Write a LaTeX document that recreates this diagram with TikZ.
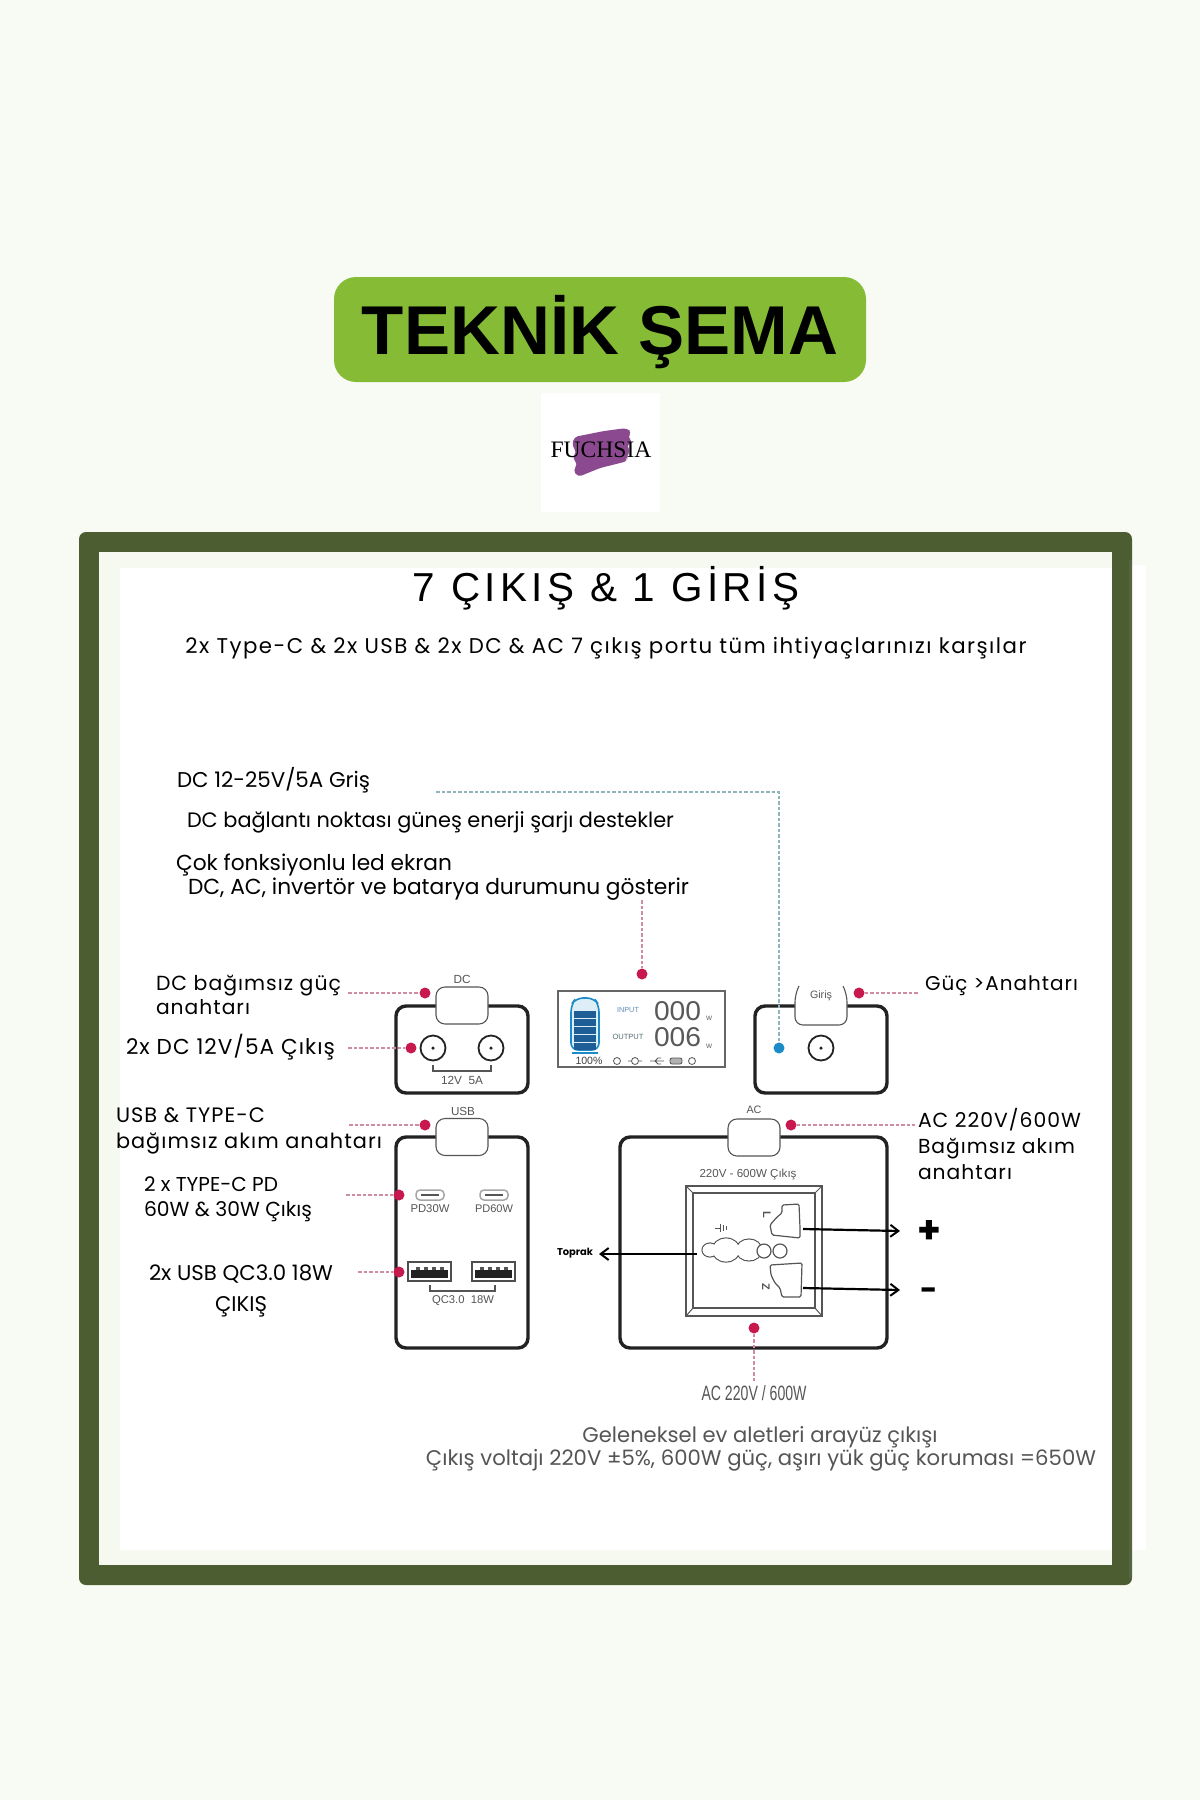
\documentclass[tikz,border=0pt]{standalone}
\usepackage{fontspec}
\usepackage{graphicx}
\usetikzlibrary{arrows.meta}
\setmainfont{Poppins}
\newfontfamily\pop{Poppins}
\newfontfamily\popsp{Poppins}[LetterSpace=5]
\newfontfamily\popsb{Poppins}[LetterSpace=7]
\newfontfamily\lib{Liberation Sans}
\newfontfamily\libsp{Liberation Sans}[LetterSpace=11]
\newfontfamily\serif{Liberation Serif}
\newcommand\fw[2]{\resizebox{#1pt}{!}{#2}}
\definecolor{bgc}{HTML}{F8FAF4}
\definecolor{pillc}{HTML}{86BC35}
\definecolor{frm}{HTML}{4B5D31}
\definecolor{bandc}{HTML}{F5F9EF}
\definecolor{crim}{HTML}{C8194F}
\definecolor{pinkd}{HTML}{CF8CA2}
\definecolor{teald}{HTML}{8FB4BA}
\definecolor{boxc}{HTML}{222222}
\definecolor{greyt}{HTML}{555555}
\definecolor{bluel}{HTML}{1C8CC8}
\definecolor{blued}{HTML}{1E5E96}
\definecolor{purp}{HTML}{8B4A8F}
\tikzset{
  x=1pt,y=-1pt,
  lbl/.style={anchor=base west,inner sep=0pt,outer sep=0pt,text=black,font=\pop\fontsize{20}{24}\selectfont},
  lblsp/.style={lbl,font=\popsp\fontsize{20}{24}\selectfont},
  captxt/.style={anchor=center,inner sep=0pt,outer sep=0pt,text=greyt,font=\lib\fontsize{11}{13}\selectfont},
  dotr/.style={circle,fill=crim,draw=none,minimum size=11pt,inner sep=0pt},
  dotb/.style={circle,fill=bluel,draw=none,minimum size=11pt,inner sep=0pt},
  dashp/.style={draw=pinkd,line width=1.2pt,dash pattern=on 3.5pt off 2pt},
  dasht/.style={draw=teald,line width=1.2pt,dash pattern=on 3.5pt off 2pt},
  unitbox/.style={draw=boxc,line width=3.4pt,rounded corners=10pt,fill=white},
  swt/.style={draw=greyt,line width=1.1pt,rounded corners=9pt,fill=white},
  jack/.style={circle,draw=boxc,line width=1.8pt,fill=white,minimum size=25pt,inner sep=0pt},
  pinc/.style={circle,fill=boxc,minimum size=3.5pt,inner sep=0pt},
  brk/.style={draw=greyt,line width=1.2pt},
  ptr/.style={draw=black,line width=2.2pt,-{Straight Barb[length=8pt,width=12pt,line width=2pt]}},
  sock/.style={draw=greyt,line width=1.2pt,fill=white},
  ico/.style={draw=greyt,line width=.8pt},
}
\begin{document}
\begin{tikzpicture}
\useasboundingbox (0,0) rectangle (1200,1800);
\fill[bgc] (0,0) rectangle (1200,1800);
% pill
\node[draw=none,fill=pillc,rounded corners=22pt,minimum width=532pt,minimum height=105pt,inner sep=0pt] (title) at (600,329.5) {};
\node[inner sep=0pt,anchor=base,font=\lib\bfseries\fontsize{72}{80}\selectfont] (titletext) at (600,354) {\fw{476}{TEKNİK ŞEMA}};
% logo
\fill[white] (541,393) rectangle (660,512);
\fill[purp,rounded corners=4pt] (574,437) -- (604,431) -- (627,428) -- (632,433) -- (627,437) -- (633,441) -- (626,446) -- (631,451) -- (626,456) -- (628,461) -- (600,468) -- (578,477) -- (573,470) -- (578,464) -- (572,458) -- (577,452) -- (572,446) -- cycle;
\node[inner sep=0pt,anchor=center,font=\serif\fontsize{22}{24}\selectfont] (logotext) at (601,450) {\fw{101}{FUCHSIA}};
% frame
\fill[white] (1128,565) rectangle (1146,1550);
\fill[frm,rounded corners=7pt] (79,532) rectangle (1132,1585);
\fill[frm!80!gray] (1129,560) rectangle (1132,1578);
\fill[bandc] (99,552) rectangle (1112,1565);
\fill[white] (120,568) rectangle (1112,1550);
% headings
\node[inner sep=0pt,anchor=base,font=\libsp\fontsize{42}{46}\selectfont] (head) at (606,601) {\fw{386}{7 ÇIKIŞ \& 1 GİRİŞ}};
\node[inner sep=0pt,anchor=base,font=\popsb\fontsize{21}{24}\selectfont] (sub) at (606,653) {\fw{841}{2x Type-C \& 2x USB \& 2x DC \& AC 7 çıkış portu tüm ihtiyaçlarınızı karşılar}};
% top labels
\node[lbl] (t1) at (177,787) {\fw{193}{DC 12-25V/5A Griş}};
\node[lbl] (t2) at (187,827) {\fw{487}{DC bağlantı noktası güneş enerji şarjı destekler}};
\node[lbl] (t3) at (176,870) {\fw{276}{Çok fonksiyonlu led ekran}};
\node[lbl] (t4) at (188,894) {\fw{501}{DC, AC, invertör ve batarya durumunu gösterir}};
% left labels
\node[lblsp] (l1) at (156,990) {\fw{185}{DC bağımsız güç}};
\node[lblsp] (l1b) at (156,1014) {\fw{94}{anahtarı}};
\node[lblsp] (l2) at (126,1054) {\fw{209}{2x DC 12V/5A Çıkış}};
\node[lblsp] (l3) at (116,1122) {\fw{149}{USB \& TYPE-C}};
\node[lblsp] (l3b) at (116,1148) {\fw{266}{bağımsız akım anahtarı}};
\node[lbl] (l4) at (144,1191) {\fw{134}{2 x TYPE-C PD}};
\node[lbl] (l4b) at (144,1216) {\fw{168}{60W \& 30W Çıkış}};
\node[lbl] (l5) at (149,1280) {\fw{184}{2x USB QC3.0 18W}};
\node[lbl,anchor=base] (l5b) at (241,1311) {\fw{52}{ÇIKIŞ}};
% right labels
\node[lblsp] (r1) at (925,990) {\fw{153}{Güç >Anahtarı}};
\node[lblsp] (r2) at (918,1127) {\fw{163}{AC 220V/600W}};
\node[lblsp] (r2b) at (918,1153) {\fw{157}{Bağımsız akım}};
\node[lblsp] (r2c) at (918,1179) {\fw{94}{anahtarı}};
% bottom labels
\node[lbl,anchor=base,text=greyt] (b1) at (760,1442) {\fw{355}{Geleneksel ev aletleri arayüz çıkışı}};
\node[lbl,anchor=base,text=greyt] (b2) at (761,1465) {\fw{670}{Çıkış voltajı 220V ±5\%, 600W güç, aşırı yük güç koruması =650W}};
% ---------- DC unit
\path[unitbox] (396,1006) rectangle (528,1093);
\node[swt,minimum width=52pt,minimum height=37pt,inner sep=0pt] (dcsw) at (462,1005.5) {};
\node[captxt] (dccap) at (462,979) {\fw{17}{DC}};
\node[jack] (j1) at (433,1048) {}; \node[pinc] at (j1) {};
\node[jack] (j2) at (491,1048) {}; \node[pinc] at (j2) {};
\draw[brk] (433,1065) -- (433,1071) -- (491,1071) -- (491,1065);
\node[captxt] (dcv) at (462,1080) {\fw{42}{12V\ \ 5A}};
% ---------- LCD
\draw[draw=gray!80!black,line width=1.3pt,fill=white] (558,991) rectangle (725,1067);
\draw[bluel,line width=1.6pt,fill=bluel!15,rounded corners=7pt] (571,1005) -- (576,998) -- (594,998) -- (599,1005) -- (599,1050) -- (571,1050) -- cycle;
\foreach \yy in {1011,1019,1027,1035,1043}{\fill[blued] (574,\yy) rectangle (596,\yy+6.5);}
\draw[bluel,line width=1.4pt] (572,1053) -- (598,1053);
\node[captxt,text=black!75] (pct) at (589,1061) {\fw{27}{100\%}};
\node[captxt,text=blued!70] (inp) at (628,1010) {\fw{22}{INPUT}};
\node[captxt,text=teald!60!black] (oup) at (628,1037) {\fw{31}{OUTPUT}};
\node[captxt,text=black!65,font=\lib\fontsize{24}{26}\selectfont] (d1) at (677.5,1011) {\resizebox{47pt}{19pt}{000}};
\node[captxt,text=black!65,font=\lib\fontsize{24}{26}\selectfont] (d2) at (677.5,1037) {\resizebox{47pt}{19pt}{006}};
\node[captxt] (w1) at (709,1018) {\fw{6}{W}};
\node[captxt] (w2) at (709,1046) {\fw{6}{W}};
\draw[ico] (617,1061) circle (3.5);
\draw[ico] (635,1061) circle (3.5) (628,1061) -- (631,1061) (639,1061) -- (642,1061);
\draw[ico] (650,1061) -- (664,1061) (655,1061) -- (658,1058) -- (661,1058) (655,1061) -- (658,1064) -- (661,1064);
\draw[ico,fill=gray!60,rounded corners=2pt] (670,1058) rectangle (682,1064);
\draw[ico] (692,1061) circle (3.5);
% ---------- Input unit
\path[unitbox] (755,1006) rectangle (887,1093);
\fill[white,rounded corners=9pt] (795,985) rectangle (847,1025);
\draw[greyt,line width=1.1pt,rounded corners=8pt] (799,986) -- (795,994) -- (795,1025) -- (847,1025) -- (847,994) -- (843,986);
\node[captxt] (gcap) at (821,996) {\fw{22}{Giriş}};
\node[jack] (j3) at (821,1048) {}; \node[pinc] at (j3) {};
% ---------- USB unit
\path[unitbox] (396,1137) rectangle (528,1348);
\node[swt,minimum width=52pt,minimum height=37pt,inner sep=0pt] (usbsw) at (462,1137) {};
\node[captxt] (ucap) at (463,1111) {\fw{24}{USB}};
\foreach \xx in {430,494}{
  \draw[gray!70,line width=1.5pt,rounded corners=4pt,fill=white] (\xx-14,1190) rectangle (\xx+14,1200);
  \draw[greyt,line width=1.5pt] (\xx-9,1195) -- (\xx+9,1195);
}
\node[captxt] (pd30) at (430,1209) {\fw{39}{PD30W}};
\node[captxt] (pd60) at (494,1209) {\fw{38}{PD60W}};
\foreach \xx in {408,472}{
  \draw[boxc!80,line width=1.3pt,fill=white] (\xx,1262) rectangle (\xx+43,1281);
  \fill[boxc] (\xx+3,1270) rectangle (\xx+40,1278);
  \foreach \k in {8,16,24,32}{\fill[greyt] (\xx+\k,1267) rectangle (\xx+\k+4,1270);}
}
\draw[brk] (430,1285) -- (430,1291) -- (495,1291) -- (495,1285);
\node[captxt] (qc) at (463,1301) {\fw{62}{QC3.0\ \ 18W}};
% ---------- AC unit
\path[unitbox] (620,1137) rectangle (887,1348);
\node[swt,minimum width=52pt,minimum height=37pt,inner sep=0pt] (acsw) at (754,1137.5) {};
\node[captxt] (accap) at (754,1110) {\fw{15}{AC}};
\node[captxt] (accp2) at (748,1175) {\fw{97}{220V - 600W Çıkış}};
\draw[draw=greyt,line width=1.6pt,fill=white] (686,1186) rectangle (822,1316);
\draw[draw=greyt,line width=1.6pt] (693,1193) rectangle (815,1308);
\draw[greyt,line width=1pt] (686,1186) -- (693,1193) (822,1186) -- (815,1193) (686,1316) -- (693,1308) (822,1316) -- (815,1308);
\draw[sock,rounded corners=1.5pt] (782,1205) -- (799,1204) -- (800,1228) -- (800,1238) -- (772,1235) -- (770,1225) -- (777,1217) -- (782,1213) -- cycle;
\draw[sock,rounded corners=1.5pt] (770,1265) -- (802,1263) -- (801,1297) -- (782,1297) -- (780,1288) -- (775,1283) -- (771,1275) -- cycle;
\draw[sock] (710,1250) ellipse (8 and 7) (726,1250) ellipse (14 and 12) (749,1250) ellipse (13 and 11);
\fill[white] (710,1250) ellipse (7.4 and 6.4) (726,1250) ellipse (13.4 and 11.4) (749,1250) ellipse (12.4 and 10.4);
\draw[sock] (764,1251) circle (7) (780,1251) circle (7);
\node[captxt,text=greyt,font=\lib\bfseries\fontsize{11}{12}\selectfont,rotate=-90] (lmark) at (767,1215) {L};
\node[captxt,text=greyt,font=\lib\bfseries\fontsize{11}{12}\selectfont,rotate=-90] (nmark) at (766,1287) {Z};
\draw[ico] (715,1228) -- (720,1228) (720,1224) -- (720,1232) (723,1225) -- (723,1231) (726,1226) -- (726,1230);
\node[lbl,anchor=center,font=\pop\bfseries\fontsize{11}{12}\selectfont] (toprak) at (575,1253) {\fw{36}{Toprak}};
\node[lbl,anchor=center,font=\pop\bfseries\fontsize{38}{38}\selectfont] (plus) at (929,1232) {+};
\node[lbl,anchor=center,font=\pop\bfseries\fontsize{30}{30}\selectfont] (minus) at (929,1294) {-};
\node[lbl,anchor=center,text=greyt,font=\lib\fontsize{14}{16}\selectfont] (acbot) at (754,1393) {\resizebox{105pt}{15pt}{AC 220V / 600W}};
% coordinates
\coordinate (ca) at (348,993);
\coordinate (cb) at (348,1048);
\coordinate (cc) at (349,1125);
\coordinate (cd) at (346,1195);
\coordinate (ce) at (358,1272);
\coordinate (cf) at (918,993);
\coordinate (cg) at (915,1125);
\coordinate (ch) at (754,1383);
\coordinate (ci) at (642,900);
\coordinate (cj) at (436,792);
\coordinate (ck) at (779,792);
\coordinate (la) at (803,1229);
\coordinate (lb) at (900,1231);
\coordinate (na) at (803,1288);
\coordinate (nb) at (900,1290);
\coordinate (ea) at (697,1254);
\coordinate (eb) at (599,1254);
% dots
\node[dotr] (da) at (425,993) {};
\node[dotr] (db) at (411,1048) {};
\node[dotr] (dc) at (425,1125) {};
\node[dotr] (dd) at (399,1195) {};
\node[dotr] (de) at (399,1272) {};
\node[dotr] (df) at (859,993) {};
\node[dotr] (dg) at (791,1125) {};
\node[dotr] (dh) at (754,1328) {};
\node[dotr] (di) at (642,974) {};
\node[dotb] (dj) at (779,1048) {};
% connectors
\draw[dashp] (ca) -- (da);
\draw[dashp] (cb) -- (db);
\draw[dashp] (cc) -- (dc);
\draw[dashp] (cd) -- (dd);
\draw[dashp] (ce) -- (de);
\draw[dashp] (df) -- (cf);
\draw[dashp] (dg) -- (cg);
\draw[dashp] (dh) -- (ch);
\draw[dashp] (ci) -- (di);
\draw[dasht] (cj) -- (ck) -- (dj);
\draw[ptr] (la) -- (lb);
\draw[ptr] (na) -- (nb);
\draw[ptr] (ea) -- (eb);
\end{tikzpicture}
\end{document}
